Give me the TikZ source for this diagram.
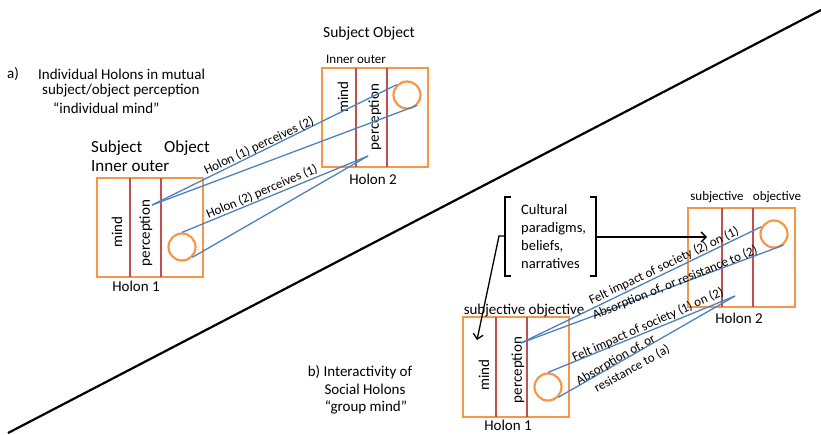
\documentclass[tikz,border=0pt]{standalone}
\usepackage{fontspec}
\setmainfont{Carlito}
\usetikzlibrary{arrows.meta}
\definecolor{holonorange}{HTML}{F79646}
\definecolor{dividerred}{HTML}{C0504D}
\definecolor{linkblue}{HTML}{4F81BD}
\begin{document}
\begin{tikzpicture}[x=1pt,y=-1pt,
  holon/.style={draw=holonorange, line width=2.2pt},
  divider/.style={draw=dividerred, line width=1.4pt},
  eye/.style={circle, draw=holonorange, line width=2.2pt, minimum size=27pt, inner sep=0pt},
  link/.style={draw=linkblue, line width=1.3pt},
  vlabel/.style={rotate=90, font=\fontsize{15}{18}\selectfont, inner sep=0pt},
  txt/.style={font=\fontsize{15}{18}\selectfont, inner sep=0pt},
  small/.style={font=\fontsize{13}{15}\selectfont, inner sep=0pt},
  linklabel/.style={font=\fontsize{13}{15}\selectfont, inner sep=0pt},
  bracket/.style={draw=black, line width=1.3pt},
  flow/.style={draw=black, line width=1.3pt, -{Straight Barb[length=5pt,width=10pt]}}]
\useasboundingbox (0,0) rectangle (821,434);

% dividing diagonal
\draw[line width=2.2pt, black] (8,433) -- (821,10);

% ---------- a) individual holons ----------
\node[txt, anchor=west] (alab) at (7,74) {a)};
\node[txt, anchor=west] (atitle1) at (38,74) {Individual Holons in mutual};
\node[txt, anchor=west] (atitle2) at (42,91) {subject/object perception};
\node[txt, anchor=west] (atitle3) at (53,108) {“individual mind”};

% holon 1
\draw[holon] (97,178) rectangle (203,277);
\draw[divider] (130,178) -- (130,277);
\draw[divider] (161,178) -- (161,277);
\node[vlabel] (m1a) at (117,232) {mind};
\node[vlabel] (p1a) at (146,233) {perception};
\node[eye] (e1a) at (182,247) {};
\node[font=\fontsize{17}{20}\selectfont, inner sep=0pt, anchor=west] (s1a) at (91,148) {Subject};
\node[font=\fontsize{17}{20}\selectfont, inner sep=0pt, anchor=west] (o1a) at (164,148) {Object};
\node[font=\fontsize{17}{20}\selectfont, inner sep=0pt, anchor=west] (io1a) at (91,166) {Inner outer};
\node[txt] (n1a) at (136,286) {Holon 1};

% holon 2
\draw[holon] (322,68) rectangle (428,167);
\draw[divider] (356,68) -- (356,167);
\draw[divider] (387,68) -- (387,167);
\node[vlabel] (m2a) at (343,97) {mind};
\node[vlabel] (p2a) at (375,117) {perception};
\node[eye] (e2a) at (407,95) {};
\node[font=\fontsize{15.5}{18}\selectfont, inner sep=0pt] (so2a) at (369,33) {Subject Object};
\node[small, anchor=west] (io2a) at (326,59) {Inner outer};
\node[txt] (n2a) at (373,179) {Holon 2};

% perception links
\coordinate (look1a) at (152,205);
\coordinate (look2a) at (368,156);
\draw[link] (look1a) -- (e2a.north west);
\draw[link] (look1a) -- (e2a.south east);
\draw[link] (e1a.north) -- (look2a);
\draw[link] (e1a.south east) -- (look2a);
\node[linklabel, rotate=25] (l1a) at (259,146) {Holon (1) perceives (2)};
\node[linklabel, rotate=23] (l2a) at (262,192) {Holon (2) perceives (1)};

% ---------- b) social holons ----------
\node[txt] (blab1) at (360,372) {b) Interactivity of};
\node[txt] (blab2) at (365,389) {Social Holons};
\node[txt] (blab3) at (366,407) {“group mind”};

% holon 1
\draw[holon] (463,317) rectangle (569,417);
\draw[divider] (496,317) -- (496,417);
\draw[divider] (527,317) -- (527,417);
\node[vlabel] (m1b) at (484,375) {mind};
\node[vlabel] (p1b) at (518,370) {perception};
\node[eye] (e1b) at (548,387) {};
\node[txt] (so1b) at (524,311) {subjective objective};
\node[txt] (n1b) at (508,425) {Holon 1};

% holon 2
\draw[holon] (688,208) rectangle (795,307);
\draw[divider] (722,208) -- (722,307);
\draw[divider] (753,208) -- (753,307);
\node[eye] (e2b) at (774,234) {};
\node[small] (s2b) at (717,197) {subjective};
\node[small] (o2b) at (777,197) {objective};
\node[txt] (n2b) at (739,318) {Holon 2};

% cultural paradigms
\node[font=\fontsize{14.5}{18}\selectfont, inner sep=0pt, align=left, anchor=west] (culture) at (521,237)
  {Cultural\\paradigms,\\beliefs,\\narratives};
\draw[bracket] (511,197) -- (505,197) -- (505,276) -- (511,276);
\draw[bracket] (590,197) -- (596,197) -- (596,276) -- (590,276);
\coordinate (brl) at (505,236);
\coordinate (brr) at (596,237);
\coordinate (toh2) at (707,237);
\coordinate (toh1) at (477,340);
\draw[flow] (brr) -- (toh2);
\draw[flow] (brl) -- ++(-6,0) -- (toh1);

% societal links
\coordinate (look1b) at (521,343);
\coordinate (look2b) at (735,296);
\draw[link] (look1b) -- (e2b.150);
\draw[link] (look1b) -- (e2b.-50);
\draw[link] (e1b.north) -- (look2b);
\draw[link] (e1b.south east) -- (look2b);
\node[linklabel, rotate=25.5] (l1b) at (664,266) {Felt impact of society (2) on (1)};
\node[linklabel, rotate=22] (l2b) at (675,283) {Absorption of, or resistance to (2)};
\node[linklabel, rotate=24] (l3b) at (648,325) {Felt impact of society (1) on (2)};
\node[linklabel, rotate=30] (l4b) at (616,360) {Absorption of, or};
\node[linklabel, rotate=29] (l5b) at (632,369) {resistance to (a)};
\end{tikzpicture}
\end{document}
